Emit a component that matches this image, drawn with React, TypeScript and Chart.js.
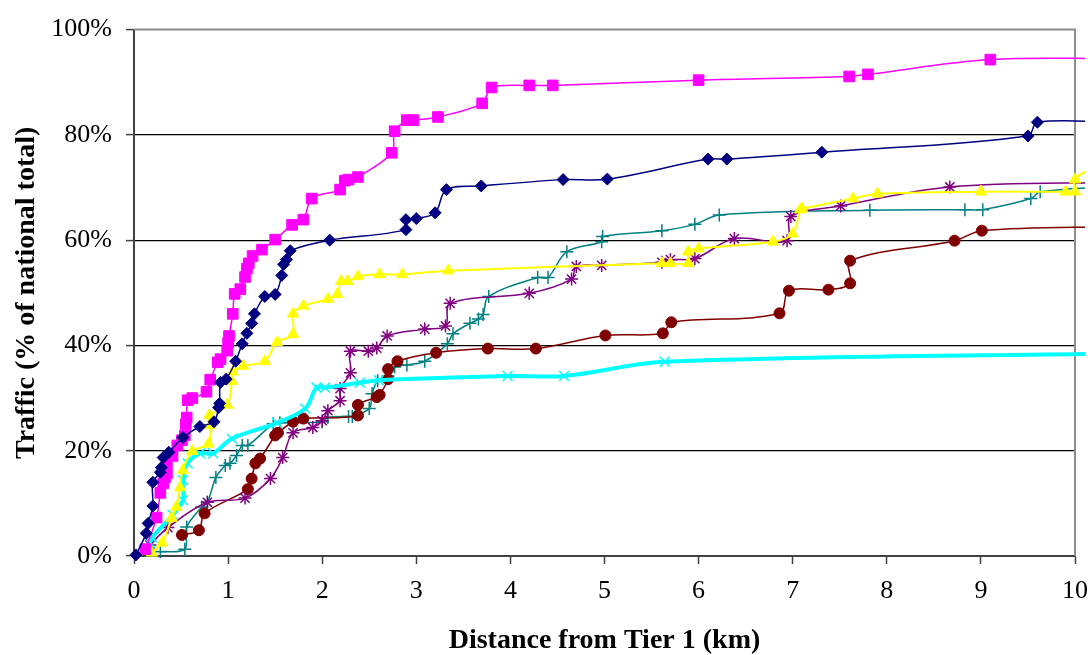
import React, { useEffect, useRef } from "react";
import { Chart, registerables } from "chart.js";

Chart.register(...registerables);

// ---- Data (km, % of national total) ----
const navyX = [0.02, 0.13, 0.15, 0.2, 0.2, 0.28, 0.29, 0.31, 0.37, 0.52, 0.7, 0.85, 0.9, 0.91, 0.92, 0.98, 1.08, 1.15, 1.2, 1.25, 1.28, 1.39, 1.5, 1.57, 1.59, 1.62, 1.66, 2.08, 2.89, 2.89, 3.0, 3.2, 3.32, 3.69, 4.56, 5.03, 6.1, 6.3, 7.31, 9.5, 9.6, 10.5];
const navyY = [0.2, 4.3, 6.2, 9.5, 14, 15.9, 16.8, 18.7, 19.7, 22.5, 24.6, 25.5, 28.2, 29, 33, 33.6, 37, 40.3, 42.3, 44.2, 46, 49.3, 49.7, 53.3, 55.4, 56.3, 58, 60, 62, 63.9, 64.1, 65.2, 69.6, 70.3, 71.5, 71.6, 75.4, 75.4, 76.7, 79.8, 82.4, 82.3];

const magentaX = [0.12, 0.24, 0.28, 0.31, 0.33, 0.35, 0.35, 0.41, 0.46, 0.51, 0.54, 0.55, 0.56, 0.57, 0.62, 0.77, 0.81, 0.89, 0.92, 0.99, 1.0, 1.01, 1.05, 1.07, 1.13, 1.18, 1.2, 1.22, 1.26, 1.36, 1.5, 1.68, 1.8, 1.89, 2.19, 2.24, 2.28, 2.38, 2.74, 2.77, 2.9, 2.97, 3.23, 3.7, 3.8, 4.2, 4.45, 6.0, 7.6, 7.8, 9.1, 10.5];
const magentaY = [1.3, 7.3, 12, 13.8, 15, 15.7, 17.8, 19, 21, 22, 22.9, 25, 26.3, 29.6, 30, 31.2, 33.5, 36.8, 37.4, 39, 40.5, 41.8, 46, 49.8, 50.7, 53, 54.6, 55.6, 57, 58.2, 60.1, 62.9, 63.9, 67.9, 69.6, 71.3, 71.5, 72, 76.6, 80.7, 82.8, 82.8, 83.4, 86, 89, 89.4, 89.4, 90.4, 91.1, 91.5, 94.3, 94.5];

const yellowX = [0.19, 0.3, 0.4, 0.45, 0.49, 0.52, 0.62, 0.79, 0.81, 0.8, 0.99, 1.04, 1.05, 1.16, 1.39, 1.52, 1.69, 1.69, 1.8, 2.06, 2.16, 2.2, 2.27, 2.38, 2.61, 2.85, 3.34, 5.61, 5.7, 5.89, 5.89, 6.0, 6.79, 7.0, 7.08, 7.1, 7.64, 7.9, 9.0, 9.9, 10.0, 10.0, 10.2];
const yellowY = [0.6, 2.5, 7.2, 9.3, 13, 16.3, 19.9, 21.3, 24.8, 26.7, 28.7, 33.2, 35, 36.1, 37, 40.6, 42.1, 46, 47.5, 48.8, 49.7, 52.2, 52.2, 53.1, 53.5, 53.5, 54.2, 55.6, 55.6, 55.6, 57.8, 58.4, 59.7, 61.2, 65.8, 66, 67.9, 68.8, 69.2, 69.2, 69.2, 71.5, 74];

const cyanX = [0.17, 0.19, 0.41, 0.52, 0.52, 0.57, 0.7, 0.84, 1.04, 1.52, 1.82, 1.94, 2.03, 2.4, 2.6, 3.97, 4.57, 5.64, 10.5];
const cyanY = [2.5, 3.5, 7.8, 10.6, 14.4, 17.6, 19.5, 19.5, 22.3, 25.3, 28, 32, 32, 32.9, 33.4, 34.2, 34.2, 36.9, 38.5];

const purpleX = [0.17, 0.36, 0.78, 1.18, 1.45, 1.58, 1.69, 1.9, 2.0, 2.06, 2.19, 2.19, 2.3, 2.3, 2.49, 2.58, 2.69, 3.09, 3.31, 3.36, 4.2, 4.65, 4.7, 4.97, 5.61, 5.7, 5.96, 6.38, 6.94, 6.98, 7.51, 8.67, 10.5];
const purpleY = [2.1, 5.4, 10.2, 11, 14.7, 18.7, 23.4, 24.4, 25.7, 27.6, 29.5, 31.8, 34.8, 38.9, 38.9, 39.5, 41.8, 43.1, 43.7, 48, 49.9, 52.6, 55, 55.2, 55.8, 56.3, 56.5, 60.3, 59.9, 64.5, 66.5, 70.1, 71];

const maroonX = [0.51, 0.69, 0.75, 1.21, 1.25, 1.29, 1.34, 1.5, 1.53, 1.69, 1.8, 2.38, 2.38, 2.58, 2.61, 2.7, 2.7, 2.8, 3.21, 3.76, 4.27, 5.01, 5.62, 5.71, 6.86, 6.96, 7.38, 7.61, 7.61, 8.72, 9.01, 10.5];
const maroonY = [4, 4.9, 8.1, 12.7, 14.7, 17.6, 18.5, 22.9, 23.4, 25.5, 26.1, 26.7, 28.7, 30.2, 30.6, 33.6, 35.5, 37, 38.6, 39.4, 39.4, 41.9, 42.3, 44.4, 46.1, 50.4, 50.6, 51.8, 56.1, 59.9, 61.8, 62.6];

const tealX = [0.28, 0.54, 0.56, 0.72, 0.78, 0.87, 0.97, 1.02, 1.09, 1.15, 1.21, 1.48, 1.55, 2.0, 2.06, 2.28, 2.32, 2.5, 2.53, 2.59, 2.7, 2.77, 2.9, 3.09, 3.33, 3.39, 3.57, 3.66, 3.71, 3.77, 4.29, 4.4, 4.6, 4.97, 4.98, 5.61, 5.96, 6.22, 7.82, 8.83, 9.02, 9.53, 9.63, 10.5];
const tealY = [0.8, 1.3, 5.5, 9.3, 10.2, 14.9, 17.2, 17.6, 19.1, 21, 21, 25.1, 25.3, 25.5, 26.3, 26.5, 26.5, 28, 30.8, 33.3, 34.2, 35.9, 36.3, 37, 40.3, 42.2, 44.2, 45, 45.9, 49.3, 52.9, 52.9, 57.8, 59.7, 60.7, 61.8, 63, 64.8, 65.7, 65.8, 65.8, 67.9, 69.2, 70.3];

const xTicks = [0, 1, 2, 3, 4, 5, 6, 7, 8, 9, 10];
const yTicks = [0, 20, 40, 60, 80, 100];

const xTitle = "Distance from Tier 1 (km)";
const yTitle = "Traffic (% of national total)";

const zip = (xs: number[], ys: number[]) => xs.map((x, i) => ({ x, y: ys[i] }));

const SERIF = "'Liberation Serif', 'Times New Roman', Times, serif";

export default function App() {
  const ref = useRef<HTMLCanvasElement | null>(null);

  useEffect(() => {
    document.body.style.margin = "0";
    const canvas = ref.current;
    if (!canvas) return;

    const mk = (
      label: string,
      xs: number[],
      ys: number[],
      color: string,
      style: string,
      radius: number,
      lineWidth: number,
      pbw: number
    ) => ({
      label,
      data: zip(xs, ys),
      borderColor: color,
      backgroundColor: color,
      pointBackgroundColor: color,
      pointBorderColor: color,
      pointStyle: style,
      pointRadius: radius,
      pointBorderWidth: pbw,
      borderWidth: lineWidth,
      tension: 0.35,
      fill: false,
      clip: { left: 12, top: 12, right: 10, bottom: 12 },
    });

    const borderPlugin = {
      id: "plotBorder",
      beforeDatasetsDraw(chart: any) {
        const { ctx, chartArea } = chart;
        ctx.save();
        ctx.strokeStyle = "#8c8c8c";
        ctx.lineWidth = 2;
        ctx.beginPath();
        ctx.moveTo(chartArea.left, chartArea.top);
        ctx.lineTo(chartArea.right, chartArea.top);
        ctx.lineTo(chartArea.right, chartArea.bottom);
        ctx.stroke();
        ctx.restore();
      },
    };

    const chart = new Chart(canvas, {
      type: "line",
      data: {
        datasets: [
          mk("Navy", navyX, navyY, "#000080", "rectRot", 6, 1.5, 1),
          mk("Magenta", magentaX, magentaY, "#FF00FF", "rect", 7.5, 1.5, 1),
          mk("Yellow", yellowX, yellowY, "#FFFF00", "triangle", 6.5, 2, 1),
          mk("Cyan", cyanX, cyanY, "#00FFFF", "crossRot", 7, 4, 1.5),
          mk("Purple", purpleX, purpleY, "#800080", "star", 6.5, 1.5, 1.5),
          mk("Maroon", maroonX, maroonY, "#800000", "circle", 5.5, 1.5, 1),
          mk("Teal", tealX, tealY, "#008080", "cross", 6.5, 1.5, 1.5),
        ] as any,
      },
      options: {
        animation: false,
        responsive: false,
        maintainAspectRatio: false,
        layout: { padding: { top: 27, right: 16, left: 0, bottom: 0 } },
        plugins: {
          legend: { display: false },
          tooltip: { enabled: false },
        },
        scales: {
          x: {
            type: "linear",
            min: 0,
            max: 10,
            afterBuildTicks: (s: any) => {
              s.ticks = xTicks.map((v) => ({ value: v }));
            },
            afterFit: (s: any) => {
              s.height = 99;
              s.paddingRight = 0;
              s.paddingLeft = 0;
            },
            ticks: {
              color: "#000",
              font: { family: SERIF, size: 26 },
              padding: 12,
              maxRotation: 0,
              autoSkip: false,
            },
            grid: {
              drawOnChartArea: false,
              drawTicks: true,
              tickLength: 8,
              tickColor: "#404040",
              tickWidth: 1.5,
            },
            border: { color: "#404040", width: 2 },
            title: {
              display: true,
              text: xTitle,
              color: "#000",
              font: { family: SERIF, size: 28, weight: "bold" },
              padding: { top: 0, bottom: -3 },
            },
          },
          y: {
            type: "linear",
            min: 0,
            max: 100,
            afterBuildTicks: (s: any) => {
              s.ticks = yTicks.map((v) => ({ value: v }));
            },
            afterFit: (s: any) => {
              s.width = 134;
            },
            ticks: {
              color: "#000",
              font: { family: SERIF, size: 26 },
              padding: 14,
              callback: (v: any) => `${v}%`,
            },
            grid: {
              color: (c: any) => (c.tick && c.tick.value === 100 ? "rgba(0,0,0,0)" : "#000"),
              lineWidth: 1.2,
              drawTicks: true,
              tickLength: 8,
              tickColor: "#404040",
              tickWidth: 1.5,
            },
            border: { color: "#404040", width: 2 },
            title: {
              display: true,
              text: yTitle,
              color: "#000",
              font: { family: SERIF, size: 28, weight: "bold" },
              padding: { top: 10, bottom: 0 },
            },
          },
        },
      } as any,
      plugins: [borderPlugin],
    });

    return () => chart.destroy();
  }, []);

  return (
    <div style={{ width: 1091, height: 655, position: "relative" }}>
      <canvas ref={ref} width={1091} height={655} style={{ display: "block" }} />
    </div>
  );
}
